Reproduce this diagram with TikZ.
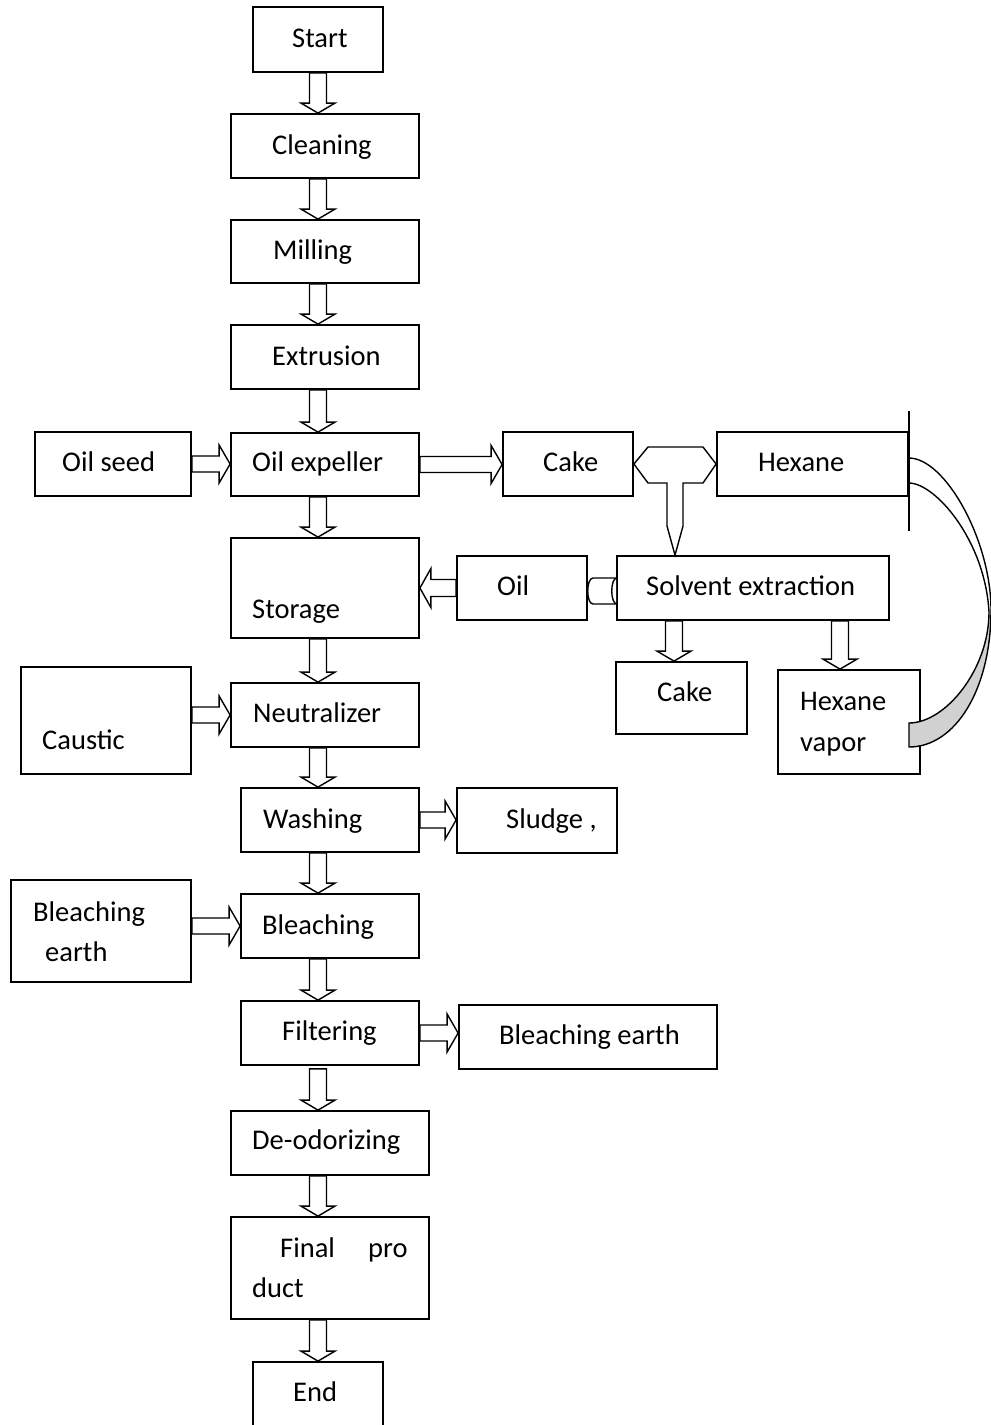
\documentclass[tikz,border=0pt]{standalone}
\usepackage{fontspec}
\setmainfont{Carlito}
\usetikzlibrary{calc}
\tikzset{
box/.style={draw, line width=1.8pt, inner sep=0pt}, % process box, text is placed apart
txt/.style={anchor=west, inner sep=0pt, text height=18pt, text depth=0pt, font=\fontsize{28.5}{34}\selectfont},
% hollow block arrows between two points
fatdown/.style={line width=1.4pt, fill=white, to path={let \p1=(\tikztostart), \p2=(\tikztotarget) in
   (\x1-8.5pt,\y1) -- (\x1-8.5pt,\y2+10pt) -- (\x1-17pt,\y2+10pt) -- (\x1,\y2) -- (\x1+17pt,\y2+10pt) -- (\x1+8.5pt,\y2+10pt) -- (\x1+8.5pt,\y1) -- cycle}},
fatright/.style={line width=1.4pt, fill=white, to path={let \p1=(\tikztostart), \p2=(\tikztotarget) in
   (\x1,\y1+8pt) -- (\x2-11pt,\y1+8pt) -- (\x2-11pt,\y1+19pt) -- (\x2,\y1) -- (\x2-11pt,\y1-19pt) -- (\x2-11pt,\y1-8pt) -- (\x1,\y1-8pt) -- cycle}},
fatleft/.style={line width=1.4pt, fill=white, to path={let \p1=(\tikztostart), \p2=(\tikztotarget) in
   (\x1,\y1+8.5pt) -- (\x2+11pt,\y1+8.5pt) -- (\x2+11pt,\y1+19.5pt) -- (\x2,\y1) -- (\x2+11pt,\y1-19.5pt) -- (\x2+11pt,\y1-8.5pt) -- (\x1,\y1-8.5pt) -- cycle}},
joint/.style={line width=1.4pt, fill=white},
}

\begin{document}
\begin{tikzpicture}[x=1pt, y=-1pt]
   \useasboundingbox (0,0) rectangle (991,1425);
   % main column
   \node[box, minimum width=130pt, minimum height=65pt] (start) at (318,39.5) {};
   \node[box, minimum width=188pt, minimum height=64pt] (clean) at (325,146) {};
   \node[box, minimum width=188pt, minimum height=63pt] (mill) at (325,251.5) {};
   \node[box, minimum width=188pt, minimum height=64pt] (extr) at (325,357) {};
   \node[box, minimum width=188pt, minimum height=63pt] (exp) at (325,464.5) {};
   \node[box, minimum width=188pt, minimum height=100pt] (stor) at (325,588) {};
   \node[box, minimum width=188pt, minimum height=64pt] (neut) at (325,715) {};
   \node[box, minimum width=178pt, minimum height=64pt] (wash) at (330,820) {};
   \node[box, minimum width=178pt, minimum height=64pt] (bleach) at (330,926) {};
   \node[box, minimum width=178pt, minimum height=64pt] (filt) at (330,1033) {};
   \node[box, minimum width=198pt, minimum height=64pt] (deo) at (330,1143) {};
   \node[box, minimum width=198pt, minimum height=102pt] (fin) at (330,1268) {};
   \node[box, minimum width=130pt, minimum height=68pt] (endn) at (318,1396) {};
   % side boxes
   \node[box, minimum width=156pt, minimum height=64pt] (seed) at (113,464) {};
   \node[box, minimum width=130pt, minimum height=64pt] (cake) at (568,464) {};
   \node[box, minimum width=191pt, minimum height=64pt] (hex) at (812.5,464) {};
   \node[box, minimum width=130pt, minimum height=64pt] (oil) at (522,588) {};
   \node[box, minimum width=272pt, minimum height=64pt] (solv) at (753,588) {};
   \node[box, minimum width=131pt, minimum height=72pt] (cake2) at (681.5,698) {};
   \node[box, minimum width=142pt, minimum height=104pt] (hexv) at (849,722) {};
   \node[box, minimum width=170pt, minimum height=107pt] (caus) at (106,720.5) {};
   \node[box, minimum width=160pt, minimum height=65pt] (sludge) at (537,820.5) {};
   \node[box, minimum width=180pt, minimum height=102pt] (bel) at (101,931) {};
   \node[box, minimum width=258pt, minimum height=64pt] (ber) at (588,1037) {};

   % texts
   \node[txt] (start-t) at (292,38) {Start};
   \node[txt] (clean-t) at (272,145) {Cleaning};
   \node[txt] (mill-t) at (273,250) {Milling};
   \node[txt] (extr-t) at (272,356) {Extrusion};
   \node[txt] (exp-t) at (252,462) {Oil expeller};
   \node[txt] (stor-t) at (252,609) {Storage};
   \node[txt] (neut-t) at (253,713) {Neutralizer};
   \node[txt] (wash-t) at (263,819) {Washing};
   \node[txt] (bleach-t) at (262,925) {Bleaching};
   \node[txt] (filt-t) at (282,1031) {Filtering};
   \node[txt] (deo-t) at (252,1140) {De-odorizing};
   \node[txt] (fin-t1) at (280,1248) {Final};
   \node[txt] (fin-t2) at (368,1248) {pro};
   \node[txt] (fin-t3) at (252,1288) {duct};
   \node[txt] (endn-t) at (293,1392) {End};
   \node[txt] (seed-t) at (62,462) {Oil seed};
   \node[txt] (cake-t) at (543,462) {Cake};
   \node[txt] (hex-t) at (758,462) {Hexane};
   \node[txt] (oil-t) at (497,586) {Oil};
   \node[txt] (solv-t) at (646,586) {Solvent extraction};
   \node[txt] (cake2-t) at (657,692) {Cake};
   \node[txt] (hexv-t1) at (800,701) {Hexane};
   \node[txt] (hexv-t2) at (800,742) {vapor};
   \node[txt] (caus-t) at (42,740) {Caustic};
   \node[txt] (sludge-t) at (506,819) {Sludge ,};
   \node[txt] (bel-t1) at (33,912) {Bleaching};
   \node[txt] (bel-t2) at (45,952) {earth};
   \node[txt] (ber-t) at (499,1035) {Bleaching earth};

   \coordinate (spine) at (318,0);
   \coordinate (c2x) at (674,0);
   \coordinate (hvx) at (840,0);

   % block arrows
   \draw[fatdown]
    (spine |- start.south) to (spine |- clean.north)
    (spine |- clean.south) to (spine |- mill.north)
    (spine |- mill.south) to (spine |- extr.north)
    (spine |- extr.south) to (spine |- exp.north)
    (spine |- exp.south) to (spine |- stor.north)
    (spine |- stor.south) to (spine |- neut.north)
    (spine |- neut.south) to (spine |- wash.north)
    (spine |- wash.south) to (spine |- bleach.north)
    (spine |- bleach.south) to (spine |- filt.north)
    ([yshift=-3pt]spine |- filt.south) to (spine |- deo.north)
    (spine |- deo.south) to (spine |- fin.north)
    (spine |- fin.south) to (spine |- endn.north)
    (c2x |- solv.south) to (c2x |- cake2.north)
    (hvx |- solv.south) to (hvx |- hexv.north);
   \draw[fatright]
    (seed.east) to (exp.west)
    (exp.east) to (cake.west)
    (caus.east |- neut.west) to (neut.west)
    (wash.east) to (sludge.west)
    (bel.east |- bleach.west) to (bleach.west)
    (filt.east) to (ber.west);
   \draw[fatleft] (oil.west) to (stor.east);

   % cake and hexane meet into solvent extraction
   \coordinate (tip) at (c2x |- solv.north);
   \draw[joint] (cake.east) -- (648,447) -- (703,447) -- (hex.west) -- (703,483) -- (683,483)
    -- (683,526) -- ([xshift=1pt]tip) -- (667,526) -- (667,483) -- (648,483) -- cycle;

   % pipe from solvent extraction to oil
   \draw[joint] (solv.west |- 0,578) -- (593,578) .. controls (586,578) and (586,604) .. (593,604) -- (solv.west |- 0,604);
   \draw[line width=1.4pt] (617,578) .. controls (610,578) and (610,604) .. (617,604);

   % hexane side line and the curved return band
   \draw[line width=1.8pt] ([yshift=20pt]hex.north east) -- ([yshift=-34pt]hex.south east);
   \coordinate (va) at ([yshift=6pt]hex.east);
   \coordinate (vb) at ([yshift=-19pt]hex.east);
   \coordinate (wa) at (909,747);
   \coordinate (wb) at (909,723);
   \coordinate (ra) at (991,610);
   \coordinate (rb) at (989,612);
   \fill[black!18] (ra) .. controls (991,690) and (955,747) .. (wa) -- (wb)
    .. controls (945,723) and (989,670) .. (rb) -- cycle;
   \draw[line width=1.4pt] (va) .. controls (945,458) and (991,540) .. (ra)
    .. controls (991,690) and (955,747) .. (wa) -- (wb)
    .. controls (945,723) and (989,670) .. (rb) .. controls (985,540) and (935,483) .. (vb);
\end{tikzpicture}
\end{document}
